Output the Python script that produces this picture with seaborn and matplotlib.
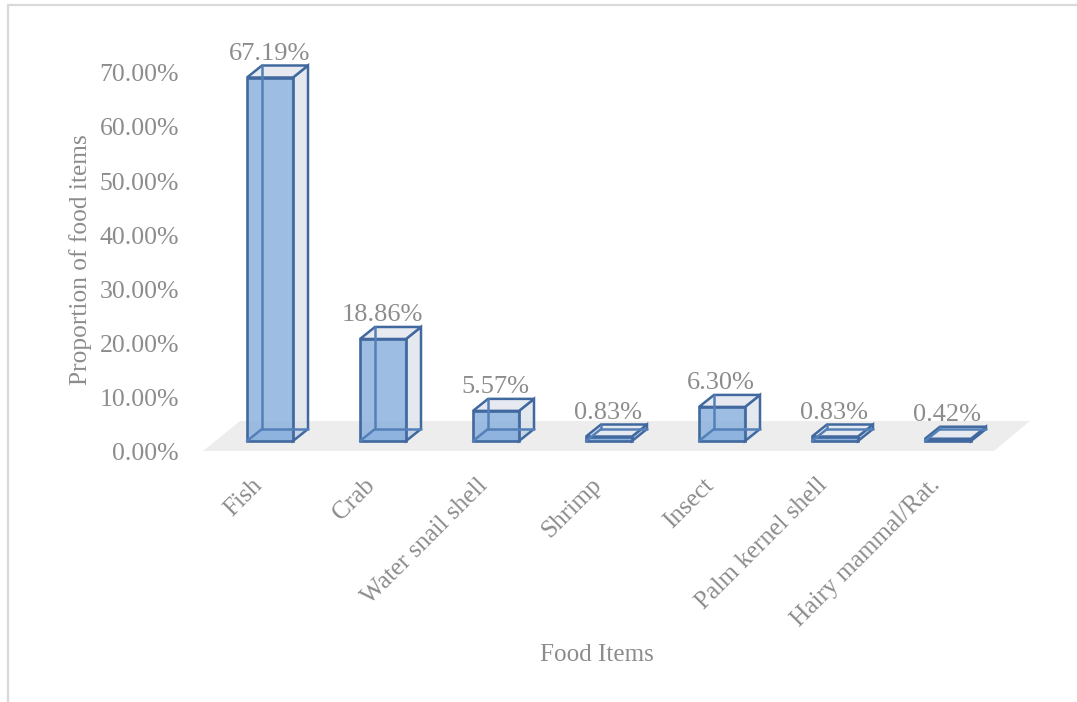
import matplotlib
matplotlib.use("Agg")
import matplotlib.pyplot as plt
from matplotlib.colors import to_rgba
from matplotlib.lines import Line2D
from matplotlib.patches import Polygon
from matplotlib.transforms import ScaledTranslation
import pandas as pd
import seaborn as sns

items = ["Fish", "Crab", "Water snail shell", "Shrimp", "Insect",
         "Palm kernel shell", "Hairy mammal/Rat."]
shares = [67.19, 18.86, 5.57, 0.83, 6.30, 0.83, 0.42]
y_ticks = [0, 10, 20, 30, 40, 50, 60, 70]

W, H, DPI = 1077, 702, 100
X0_PX, X_STEP_PX = 270.0, 113.0      # centre of the first bar, category spacing
Y0_PX, Y_STEP_PX = 441.0, 5.41       # baseline, pixels per percentage point
BAR_W = 46 / X_STEP_PX
DEPTH_X = 15 / X_STEP_PX
DEPTH_Y = 12 / Y_STEP_PX

EDGE = "#41699F"
HIDDEN = "#5480B8"
FRONT = "#8CB2DE"
TEXT = "#8C8C8C"

sns.set_theme(style="white")
plt.rcParams["font.family"] = ["Liberation Serif", "DejaVu Serif"]

fig = plt.figure(figsize=(W / DPI, H / DPI), dpi=DPI, facecolor="white")
L, R, T, B = 190, 1040, 30, 451
ax = fig.add_axes([L / W, 1 - B / H, (R - L) / W, (B - T) / H])
ax.patch.set_alpha(0)

df = pd.DataFrame({"item": items, "share": shares})
sns.barplot(data=df, x="item", y="share", color=FRONT, saturation=1,
            width=BAR_W, linewidth=1.9, edgecolor=EDGE, errorbar=None,
            ax=ax, zorder=3)
for bar in ax.patches:
    bar.set_facecolor(to_rgba(FRONT, 0.85))
    bar.set_edgecolor(EDGE)

ax.set_xlim((L - X0_PX) / X_STEP_PX, (R - X0_PX) / X_STEP_PX)
ax.set_ylim((Y0_PX - B) / Y_STEP_PX, (Y0_PX - T) / Y_STEP_PX)

# Chart floor behind the boxes
floor = Polygon([(-0.593, -1.85), (-0.265, 3.7), (6.726, 3.7), (6.407, -1.85)],
                closed=True, facecolor="#EDEDED", edgecolor="none", zorder=0)
ax.add_patch(floor)

# Depth faces and edges of every box, built from its value
for i, v in enumerate(shares):
    x0, x1 = i - BAR_W / 2, i + BAR_W / 2
    dx, dy = DEPTH_X, DEPTH_Y
    ax.add_patch(Polygon([(x0, 0), (x1, 0), (x1 + dx, dy), (x0 + dx, dy)],
                         facecolor="#9FBDE3", edgecolor="none", zorder=1))
    ax.add_patch(Polygon([(x1, 0), (x1 + dx, dy), (x1 + dx, v + dy), (x1, v)],
                         facecolor=to_rgba("#D9DFE9", 0.7), edgecolor=EDGE,
                         linewidth=1.8, zorder=2))
    ax.add_patch(Polygon([(x0, v), (x1, v), (x1 + dx, v + dy), (x0 + dx, v + dy)],
                         facecolor="#E6E9F0", edgecolor=EDGE,
                         linewidth=1.8, zorder=2))
    hidden = [([x0 + dx, x0 + dx], [dy, v + dy]),
              ([x0, x0 + dx], [0, dy]),
              ([x0 + dx, x1 + dx], [dy, dy])]
    for xs, ys in hidden:
        ax.plot(xs, ys, color=HIDDEN, linewidth=1.8, zorder=4,
                solid_capstyle="round")
    ax.annotate(f"{v:.2f}%", xy=(i, v + dy), xytext=(-0.5, 8.3),
                textcoords="offset points", ha="center", va="center",
                fontsize=19, color=TEXT, zorder=6)

ax.set_yticks(y_ticks)
ax.set_yticklabels([f"{t:.2f}%" for t in y_ticks])
ax.tick_params(axis="y", length=0, pad=8, labelsize=18.5, labelcolor=TEXT)
ax.tick_params(axis="x", length=0, pad=0, labelsize=18.2, labelcolor=TEXT)

# Value-axis labels sit lower than their grid positions, as in a perspective chart
down = ScaledTranslation(0, -10.5 / DPI, fig.dpi_scale_trans)
for lab in ax.get_yticklabels():
    lab.set_transform(lab.get_transform() + down)

shift = ScaledTranslation(-19 / DPI, -23 / DPI, fig.dpi_scale_trans)
for lab in ax.get_xticklabels():
    lab.set_rotation(45)
    lab.set_rotation_mode("anchor")
    lab.set_ha("right")
    lab.set_va("top")
    lab.set_transform(lab.get_transform() + shift)

ax.set_xlabel("Food Items", fontsize=18.1, color=TEXT)
ax.xaxis.set_label_coords(597 / W, 1 - 655 / H, transform=fig.transFigure)
ax.xaxis.label.set_va("center")
ax.set_ylabel("Proportion of food items", fontsize=18.3, color=TEXT)
ax.yaxis.set_label_coords(81 / W, 1 - 260 / H, transform=fig.transFigure)
ax.yaxis.label.set_va("center")

sns.despine(ax=ax, left=True, bottom=True, top=True, right=True)
ax.grid(False)

# Chart-area border along the top and left
fig.add_artist(Line2D([8 / W, 8 / W, 1], [0, 1 - 5 / H, 1 - 5 / H],
                      color="#D9D9D9", linewidth=1.6))

fig.savefig("out.png", dpi=DPI, facecolor="white")
